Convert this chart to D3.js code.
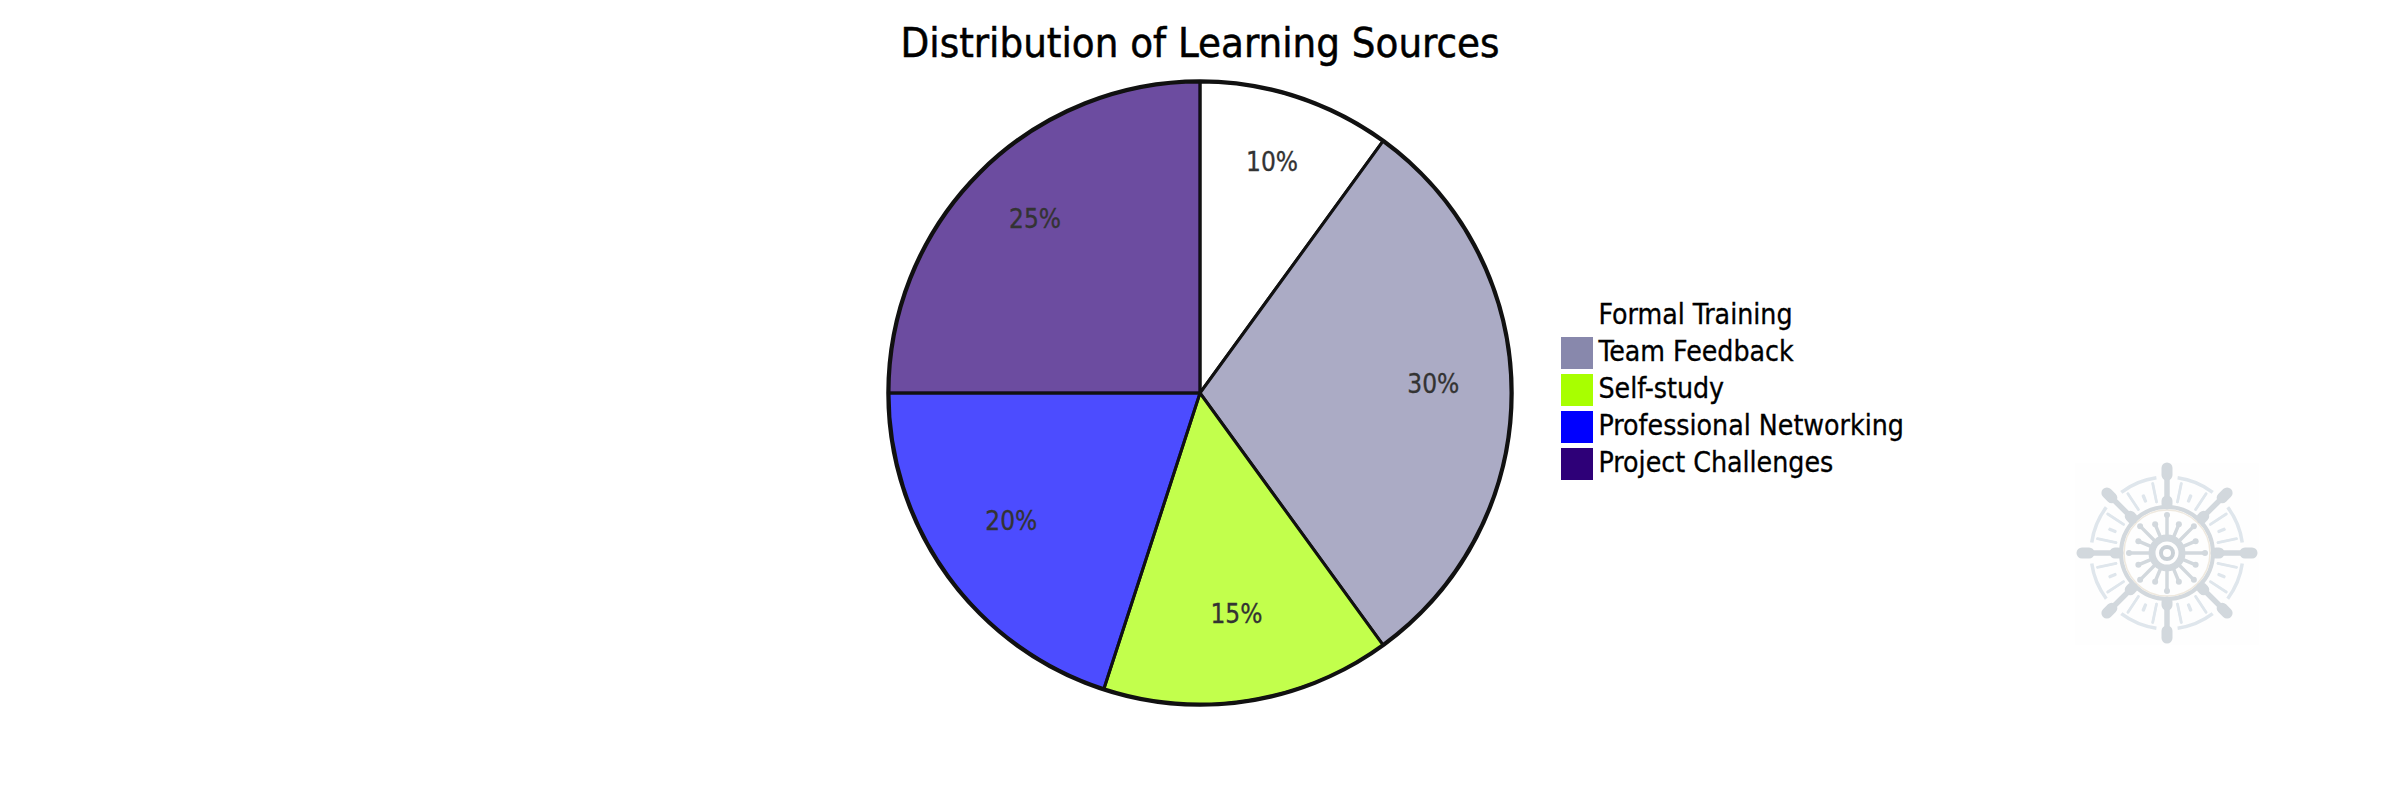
<!DOCTYPE html>
<html><head><meta charset="utf-8">
<style>html,body{margin:0;padding:0;background:#fff;overflow:hidden}svg{display:block}
text{font-family:"DejaVu Sans Condensed","DejaVu Sans",sans-serif;font-stretch:condensed}</style>
<script src="https://cdn.jsdelivr.net/npm/d3@7"></script></head><body>
<script>
const titleText = "Distribution of Learning Sources";
const categories = ["Formal Training","Team Feedback","Self-study","Professional Networking","Project Challenges"];
const values = [10,30,15,20,25];
const legendColors = ["#ffffff","#8888ac","#a8ff00","#0000ff","#2e0078"];
const W=2400,H=787,cx=1200,cy=393,R=311;
const svg=d3.select("body").append("svg").attr("width",W).attr("height",H);
svg.append("text").attr("x",cx).attr("y",57).attr("text-anchor","middle").attr("font-size",41.5).attr("fill","#000").attr("stroke","#000").attr("stroke-width",0.5).text(titleText);
const color=d3.scaleOrdinal(categories,legendColors);
const pie=d3.pie().sort(null).value((d,i)=>values[i]);
const arcs=pie(categories);
const arc=d3.arc().innerRadius(0).outerRadius(R);
const labelArc=d3.arc().innerRadius(R*0.75).outerRadius(R*0.75);
const g=svg.append("g").attr("transform",`translate(${cx},${cy})`);
g.selectAll("path").data(arcs).join("path").attr("d",arc).attr("fill",d=>color(d.data)).attr("fill-opacity",0.7).attr("stroke","#111").attr("stroke-width",3);
g.append("circle").attr("r",R+1).attr("fill","none").attr("stroke","#111").attr("stroke-width",3.5);
g.selectAll("text").data(arcs).join("text").attr("transform",d=>`translate(${labelArc.centroid(d)})`).attr("text-anchor","middle").attr("dy",-9).attr("dominant-baseline","central").attr("font-size",26).attr("fill","#333").attr("stroke","#333").attr("stroke-width",0.3).text(d=>d.value+"%");
const leg=svg.append("g").selectAll("g").data(categories).join("g").attr("transform",(d,i)=>`translate(1561,${300+i*37})`);
leg.append("rect").attr("width",32).attr("height",32).attr("fill",d=>color(d));
leg.append("text").attr("x",37.5).attr("y",14).attr("dy","0.35em").attr("font-size",28.2).attr("fill","#000").attr("stroke","#000").attr("stroke-width",0.3).text(d=>d);
// watermark
const grey="#d2d8dd",blue="#dfe6ec";
const wm=svg.append("g").attr("transform","translate(2167,553)").attr("fill","none").attr("stroke",grey).attr("stroke-linecap","round");
wm.append("rect").attr("x",-92).attr("y",-90).attr("width",184).attr("height",182).attr("fill","#fefefe").attr("stroke","none");
wm.append("circle").attr("r",46).attr("stroke-width",4);
wm.append("circle").attr("r",43).attr("stroke-width",1.5).attr("stroke","#efe9df");
wm.append("circle").attr("r",6).attr("stroke-width",4).attr("stroke","#c9d0d6");
wm.append("circle").attr("r",15).attr("stroke-width",7);
d3.range(16).forEach(i=>{const a=i*Math.PI/8,c=Math.cos(a),s=Math.sin(a),inner=i%2===0?38:31;
 wm.append("line").attr("x1",c*15).attr("y1",s*15).attr("x2",c*inner).attr("y2",s*inner).attr("stroke-width",3.5);
 wm.append("circle").attr("cx",c*inner).attr("cy",s*inner).attr("r",3).attr("fill",grey).attr("stroke","none");
});
d3.range(8).forEach(i=>{const a=i*Math.PI/4,c=Math.cos(a),s=Math.sin(a);
 wm.append("line").attr("x1",c*50).attr("y1",s*50).attr("x2",c*80).attr("y2",s*80).attr("stroke-width",5.5);
 wm.append("line").attr("x1",c*78).attr("y1",s*78).attr("x2",c*85).attr("y2",s*85).attr("stroke-width",11);
 wm.append("line").attr("x1",c*49).attr("y1",s*49).attr("x2",c*52).attr("y2",s*52).attr("stroke-width",11);
 [0.2,0.4,0.58].forEach((off,j)=>{
  const r0=52+j%2*4,r1=j%2?62:71;
  [a+off,a-off].forEach(b=>wm.append("line").attr("x1",Math.cos(b)*r0).attr("y1",Math.sin(b)*r0).attr("x2",Math.cos(b)*r1).attr("y2",Math.sin(b)*r1).attr("stroke",blue).attr("stroke-width",2.5));
 });
 const a0=i*Math.PI/4+0.14,a1=(i+1)*Math.PI/4-0.14;
 wm.append("path").attr("d",d3.arc().innerRadius(76).outerRadius(76).startAngle(a0).endAngle(a1)()).attr("stroke-width",3.5).attr("stroke",blue);
});
</script></body></html>
